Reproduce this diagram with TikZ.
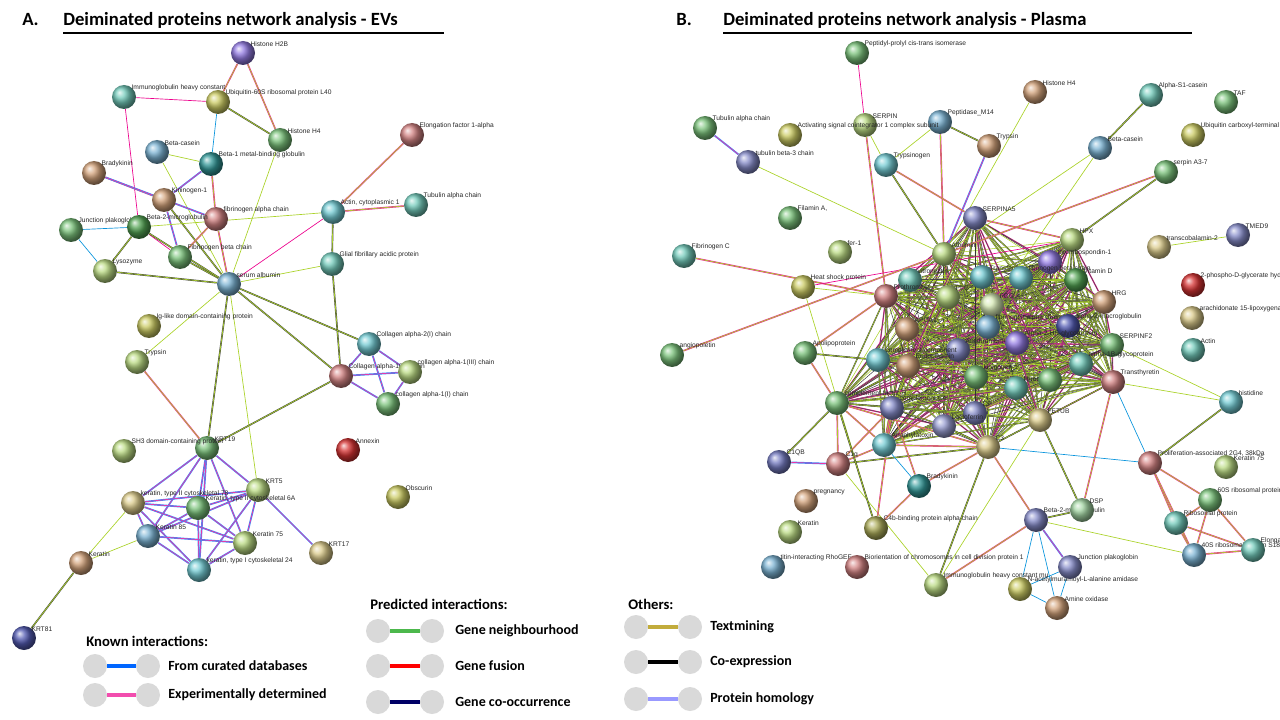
\documentclass[tikz,border=0pt]{standalone}
\usepackage{fontspec}
\setmainfont{Liberation Sans}
\newfontfamily\carl{Carlito}
\usetikzlibrary{backgrounds}
\definecolor{yg}{RGB}{170,210,40}
\definecolor{cgreen}{RGB}{90,180,90}
\definecolor{cteal}{RGB}{80,190,170}
\definecolor{cblue}{RGB}{90,160,200}
\definecolor{cbrown}{RGB}{200,140,90}
\definecolor{colive}{RGB}{190,190,60}
\definecolor{cpurp}{RGB}{120,90,220}
\definecolor{cred}{RGB}{200,100,100}
\definecolor{clime}{RGB}{170,210,100}
\definecolor{cnavy}{RGB}{40,50,160}
\definecolor{ccyan}{RGB}{80,190,200}
\definecolor{cdgreen}{RGB}{40,140,40}
\definecolor{ctan}{RGB}{210,190,110}
\tikzset{
 ball/.style={circle,minimum size=18pt,inner sep=0pt,shading=ball,ball color=#1!80!white},
 lab/.style={font=\fontsize{5}{6}\selectfont,inner sep=0.5pt,text=black!85},
 e0/.style={draw=yg,line width=.5pt},
 e1/.style={draw=black!75,double=yg,double distance=.5pt,line width=.35pt},
 e2/.style={draw=magenta!85,double=yg,double distance=.5pt,line width=.35pt},
 e3/.style={draw=blue!55!cyan!80,double=magenta!80,double distance=.5pt,line width=.4pt},
 e4/.style={draw=cyan!80!blue,line width=.5pt},
 e5/.style={draw=magenta,line width=.5pt},
 h0/.style={draw=black!80,line width=.35pt},
 h1/.style={draw=black!75,double=yg,double distance=.4pt,line width=.3pt},
 h2/.style={draw=magenta!85,double=black!70,double distance=.4pt,line width=.3pt},
 h3/.style={draw=yg,line width=.4pt},
 h4/.style={draw=black!70,double=yg,double distance=.4pt,line width=.3pt},
 lg/.style={circle,fill=black!15,minimum size=18pt,inner sep=0pt},
 lt/.style={font=\carl\bfseries\fontsize{10.5}{12}\selectfont,anchor=west,inner sep=0pt},
 tt/.style={font=\carl\bfseries\fontsize{14}{16}\selectfont,anchor=west,inner sep=0pt}
}
\newcommand\bn[4]{\node[ball=#3] (#1) at (#2) {}; \node[lab,anchor=south west] at ([xshift=-1.5pt,yshift=-2.5pt]#1.north east) {#4};}
\begin{document}
\begin{tikzpicture}[x=0.75pt,y=-0.75pt]
\useasboundingbox (0,0) rectangle (1280,720);
% titles
\node[tt] at (22,20) {A.};
\node[tt] (ta) at (63,20) {Deiminated proteins network analysis - EVs};
\draw[line width=1.2pt] (63,33) -- (444,33);
\node[tt] at (676,20) {B.};
\node[tt] (tb) at (723,20) {Deiminated proteins network analysis - Plasma};
\draw[line width=1.2pt] (723,33) -- (1192,33);
% ---------- panel A nodes
\bn{h2b}{243,53}{cpurp}{Histone H2B}
\bn{igc}{124,97}{cteal}{Immunoglobulin heavy constant}
\bn{ubq}{218,102}{colive}{Ubiquitin-60S ribosomal protein L40}
\bn{h4}{280,140}{cgreen}{Histone H4}
\bn{ef}{412,135}{cred}{Elongation factor 1-alpha}
\bn{bcas}{157,152}{cblue}{Beta-casein}
\bn{b1}{211,164}{teal}{Beta-1 metal-binding globulin}
\bn{brad}{94,173}{cbrown}{Bradykinin}
\bn{kin}{164,200}{cbrown}{Kininogen-1}
\bn{fa}{216,219}{cred}{fibrinogen alpha chain}
\bn{act}{333,212}{ccyan}{Actin, cytoplasmic 1}
\bn{tub}{416,205}{cteal}{Tubulin alpha chain}
\bn{jp}{71,230}{cgreen}{Junction plakoglobin}
\bn{b2m}{139,227}{cdgreen}{Beta-2-microglobulin}
\bn{fb}{180,257}{cgreen}{Fibrinogen beta chain}
\bn{gfap}{332,264}{cteal}{Glial fibrillary acidic protein}
\bn{lys}{105,271}{clime}{Lysozyme}
\bn{alb}{229,284}{cblue}{serum albumin}
\bn{iglike}{149,326}{colive}{Ig-like domain-containing protein}
\bn{tryp}{137,362}{clime}{Trypsin}
\bn{ca2}{369,344}{ccyan}{Collagen alpha-2(I) chain}
\bn{ca}{341,376}{cred}{Collagen alpha-1(II) chain}
\bn{c3}{410,372}{clime}{collagen alpha-1(III) chain}
\bn{c1}{388,404}{cgreen}{collagen alpha-1(I) chain}
\bn{krt19}{207,448}{cgreen}{KRT19}
\bn{sh3}{124,451}{clime}{SH3 domain-containing protein}
\bn{anx}{348,450}{red!80!black}{Annexin}
\bn{krt5}{258,490}{clime}{KRT5}
\bn{k78}{133,503}{ctan}{keratin, type II cytoskeletal 78}
\bn{k6a}{198,508}{cgreen}{Keratin, type II cytoskeletal 6A}
\bn{obs}{398,497}{colive}{Obscurin}
\bn{k85}{148,536}{cblue}{Keratin 85}
\bn{k75}{245,543}{clime}{Keratin 75}
\bn{krt17}{321,553}{ctan}{KRT17}
\bn{k24}{199,570}{ccyan}{keratin, type I cytoskeletal 24}
\bn{ker}{81,563}{cbrown}{Keratin}
\bn{krt81}{24,638}{cnavy}{KRT81}
\begin{scope}[on background layer]
\draw[e2] (h2b)--(ubq); \draw[e2] (h2b)--(h4); \draw[e1] (ubq)--(h4);
\draw[e5] (igc)--(ubq); \draw[e5] (igc)--(b2m); \draw[e4] (ubq)--(b1);
\draw[e0] (bcas)--(b1); \draw[e0] (bcas)--(alb); \draw[e0] (h4)--(alb);
\draw[e3] (b1)--(kin); \draw[e2] (b1)--(fa); \draw[e2] (brad)--(kin);
\draw[e3] (brad)--(fa); \draw[e3] (kin)--(fb); \draw[e1] (kin)--(alb);
\draw[e2] (fa)--(fb); \draw[e2] (fa)--(alb); \draw[e4] (jp)--(b2m);
\draw[e4] (jp)--(lys); \draw[e1] (b2m)--(lys); \draw[e5] (b2m)--(fb);
\draw[e0] (b2m)--(act); \draw[e1] (lys)--(alb); \draw[e1] (fb)--(alb);
\draw[e1] (b2m)--(alb);
\draw[e2] (act)--(ef); \draw[e2] (act)--(tub); \draw[e5] (act)--(alb);
\draw[e1] (act)--(gfap); \draw[e0] (gfap)--(alb); \draw[e1] (gfap)--(ca);
\draw[e0] (tryp)--(alb); \draw[e2] (tryp)--(krt19); \draw[e1] (alb)--(krt19);
\draw[e0] (alb)--(krt5); \draw[e1] (alb)--(ca2); \draw[e1] (alb)--(ca);
\draw[e1] (ca)--(krt19);
\foreach \a/\b in {ca2/ca,ca2/c3,ca2/c1,ca/c3,ca/c1,c3/c1} \draw[e3] (\a)--(\b);
\foreach \a/\b in {krt19/krt5,krt19/k78,krt19/k6a,krt19/k85,krt19/k75,krt19/k24,krt5/k78,krt5/k6a,krt5/k85,krt5/k75,krt5/k24,k78/k6a,k78/k85,k78/k75,k78/k24,k6a/k85,k6a/k75,k6a/k24,k85/k75,k85/k24,k75/k24,krt5/krt17}
  \draw[e3] (\a)--(\b);
\draw[e0] (k78)--(ker); \draw[e0] (k85)--(ker); \draw[e1] (ker)--(krt81);
\end{scope}
% ---------- panel B nodes
\bn{ppi}{857,53}{cgreen}{Peptidyl-prolyl cis-trans isomerase}
\bn{bh4}{1035,92}{cbrown}{Histone H4}
\bn{as1}{1151,95}{cteal}{Alpha-S1-casein}
\bn{taf}{1226,102}{cgreen}{TAF}
\bn{btub}{705,128}{cgreen}{Tubulin alpha chain}
\bn{serpin}{865,125}{clime}{SERPIN}
\bn{pep}{940,122}{cblue}{Peptidase\_M14}
\bn{asc}{790,135}{colive}{Activating signal cointegrator 1 complex subunit}
\bn{btryp}{989,146}{cbrown}{Trypsin}
\bn{ucl}{1193,135}{colive}{Ubiquitin carboxyl-terminal hydrolase}
\bn{bbcas}{1100,148}{cblue}{Beta-casein}
\bn{tb3}{748,162}{cnavy!70!white}{tubulin beta-3 chain}
\bn{tgen}{886,165}{ccyan}{Trypsinogen}
\bn{sa3}{1166,172}{cgreen}{serpin A3-7}
\bn{sa5}{975,218}{cnavy!70!white}{SERPINA5}
\bn{fil}{790,218}{cgreen}{Filamin A,}
\bn{tmed}{1238,235}{cnavy!70!white}{TMED9}
\bn{hpx}{1072,240}{clime}{HPX}
\bn{fibc}{684,256}{cteal}{Fibrinogen C}
\bn{fer}{840,252}{clime}{fer-1}
\bn{tcb}{1159,247}{ctan}{transcobalamin-2}
\bn{balb}{944,254}{clime}{Albumin}
\bn{thr}{1050,262}{cpurp}{thrombospondin-1}
\bn{vit}{910,280}{cteal}{vitronectin}
\bn{trf}{982,277}{ccyan}{Transferrin}
\bn{fbb}{1021,278}{ccyan}{fibrinogen beta chain}
\bn{vitd}{1076,280}{cdgreen}{Vitamin D}
\bn{hsp}{803,287}{colive}{Heat shock protein}
\bn{pro}{886,296}{cred}{Prothrombin}
\bn{plg}{948,297}{clime}{PLG}
\bn{fgg}{992,305}{clime!60!white}{FGG}
\bn{hrg}{1104,302}{cbrown}{HRG}
\bn{apoa}{907,329}{cbrown}{APOA1}
\bn{fba}{988,327}{cblue}{fibrinogen alpha chain}
\bn{a2m}{1068,326}{cnavy}{alpha-2-macroglobulin}
\bn{at3}{958,350}{cnavy!70!white}{Antithrombin-III}
\bn{a2hs}{1017,343}{cpurp}{Alpha-2-HS-glycoprotein}
\bn{apo}{805,353}{cgreen}{Apolipoprotein}
\bn{sf2}{1112,345}{cgreen}{SERPINF2}
\bn{ccomp}{878,360}{ccyan}{complement component}
\bn{endo}{908,366}{cbrown}{Endoplasmin}
\bn{a1b}{1081,364}{cteal}{alpha-1B-glycoprotein}
\bn{bkin}{976,377}{cgreen}{kininogen-1}
\bn{fn}{1016,388}{cteal}{fibronectin}
\bn{gn}{1050,380}{cgreen}{}
\bn{ttr}{1113,382}{cred}{Transthyretin}
\bn{cfh}{837,403}{cgreen}{complement factor H}
\bn{c4}{892,408}{cnavy!70!white}{complement C4}
\bn{cp}{975,413}{cnavy!70!white}{CP}
\bn{fetub}{1040,420}{ctan}{FETUB}
\bn{lact}{944,426}{cnavy!60!white}{Lactoferrin}
\bn{ana}{884,445}{ccyan}{Anaphylatoxin}
\bn{bc3}{988,447}{ctan}{C3}
\bn{ang}{672,355}{cgreen}{angiopoietin}
\bn{c1qb}{779,462}{cnavy!80!white}{C1QB}
\bn{c1q}{838,464}{cred}{C1q}
\bn{bbrad}{919,486}{teal}{Bradykinin}
\bn{preg}{806,501}{cbrown}{pregnancy}
\bn{bker}{790,532}{clime}{Keratin}
\bn{c4b}{876,528}{colive!80!black}{C4b-binding protein alpha chain}
\bn{titin}{773,567}{cblue}{titin-interacting RhoGEF}
\bn{bior}{857,567}{cred}{Biorientation of chromosomes in cell division protein 1}
\bn{igmu}{936,585}{clime}{Immunoglobulin heavy constant mu}
\bn{nac}{1020,589}{colive}{N-acetylmuramoyl-L-alanine amidase}
\bn{amo}{1057,608}{cbrown}{Amine oxidase}
\bn{bjp}{1070,567}{cnavy!70!white}{Junction plakoglobin}
\bn{bb2m}{1036,520}{cnavy!70!white}{Beta-2-microglobulin}
\bn{dsp}{1082,510}{cgreen!70!white}{DSP}
\bn{his}{1231,402}{ccyan}{histidine}
\bn{pa2}{1150,463}{cred}{Proliferation-associated 2G4, 38kDa}
\bn{k75b}{1226,467}{clime}{Keratin 75}
\bn{r60}{1210,500}{cgreen}{60S ribosomal protein}
\bn{rp}{1176,523}{cteal}{Ribosomal protein}
\bn{r40}{1194,555}{cblue}{40S ribosomal protein S18}
\bn{elo}{1253,550}{cteal}{Elongation}
\bn{bact}{1193,350}{cteal}{Actin}
\bn{ara}{1192,318}{ctan}{arachidonate 15-lipoxygenase}
\bn{pgh}{1193,285}{red!80!black}{2-phospho-D-glycerate hydro-lyase}
\begin{scope}[on background layer]
\foreach \a [count=\i] in {balb,hpx,thr,vit,trf,fbb,vitd,pro,plg,fgg,hrg,apoa,fba,a2m,at3,a2hs,ccomp,endo,a1b,sf2,bkin,fn,gn,ttr,cfh,c4,cp,fetub,lact,ana,bc3,sa5}{
 \foreach \b [count=\j] in {balb,hpx,thr,vit,trf,fbb,vitd,pro,plg,fgg,hrg,apoa,fba,a2m,at3,a2hs,ccomp,endo,a1b,sf2,bkin,fn,gn,ttr,cfh,c4,cp,fetub,lact,ana,bc3,sa5}{
  \ifnum\j>\i
   \pgfmathtruncatemacro\s{mod(\i*7+\j*3,5)}
   \draw[h\s] (\a)--(\b);
  \fi}}
\draw[e5] (ppi)--(serpin); \draw[e2] (serpin)--(pro); \draw[e3] (btub)--(tb3);
\draw[e0] (tb3)--(balb); \draw[e0] (serpin)--(tgen); \draw[e0] (pep)--(tgen);
\draw[e1] (pep)--(btryp); \draw[e2] (pep)--(balb); \draw[e3] (btryp)--(balb);
\draw[e0] (bh4)--(balb); \draw[e1] (as1)--(bbcas); \draw[e0] (bbcas)--(balb);
\draw[e0] (bbcas)--(fgg); \draw[e2] (sa3)--(balb); \draw[e1] (sa3)--(hpx);
\draw[e2] (tgen)--(sa5); \draw[e1] (tgen)--(balb); \draw[e2] (sa5)--(hpx);
\draw[e2] (fibc)--(pro); \draw[e0] (hsp)--(pro); \draw[e5] (hsp)--(hpx);
\draw[e0] (hsp)--(c4b); \draw[e2] (ang)--(balb); \draw[e0] (tmed)--(tcb);
\draw[e0] (ttr)--(his); \draw[e1] (his)--(pa2); \draw[e4] (bc3)--(pa2);
\draw[e4] (ttr)--(pa2); \draw[e0] (sf2)--(his);
\foreach \a/\b in {pa2/r60,pa2/rp,pa2/r40,r60/rp,r60/r40,rp/r40,r60/elo,rp/elo,r40/elo} \draw[e2] (\a)--(\b);
\draw[e0] (bb2m)--(r40); \draw[e1] (bb2m)--(dsp); \draw[e3] (bb2m)--(bjp);
\draw[e4] (bb2m)--(nac); \draw[e4] (bb2m)--(amo); \draw[e4] (bjp)--(amo);
\draw[e4] (nac)--(amo); \draw[e4] (bjp)--(nac); \draw[e2] (bb2m)--(bc3);
\draw[e1] (dsp)--(fetub); \draw[e2] (dsp)--(ttr); \draw[e3] (c1qb)--(c1q);
\draw[e1] (c1qb)--(cfh); \draw[e2] (c1q)--(cfh); \draw[e2] (c1q)--(c4);
\draw[e1] (c1q)--(bc3); \draw[e2] (c1q)--(ana); \draw[e0] (c1q)--(igmu);
\draw[e2] (c4b)--(bbrad); \draw[e1] (c4b)--(cfh); \draw[e2] (c4b)--(c4);
\draw[e1] (igmu)--(bc3); \draw[e2] (igmu)--(bb2m); \draw[e0] (igmu)--(fetub);
\draw[e2] (bbrad)--(bc3); \draw[e4] (bbrad)--(ana); \draw[e2] (bbrad)--(c4);
\draw[e2] (apo)--(pro); \draw[e1] (apo)--(ccomp); \draw[e2] (apo)--(cfh);
\draw[e2] (cfh)--(ana); \draw[e2] (cfh)--(bc3); \draw[e2] (ana)--(bc3);
\draw[e2] (ana)--(c4); \draw[e1] (lact)--(bc3);
\end{scope}
% ---------- legend
\node[lt,font=\carl\bfseries\fontsize{11}{13}\selectfont] at (86,641) {Known interactions:};
\node[lt,font=\carl\bfseries\fontsize{11}{13}\selectfont] at (370,604) {Predicted interactions:};
\node[lt,font=\carl\bfseries\fontsize{11}{13}\selectfont] at (628,604) {Others:};
\foreach \y/\c/\t [count=\k] in {666/blue!60!cyan/From curated databases,695/magenta!70/Experimentally determined}{
 \node[lg] (ka\k) at (95,\y) {}; \node[lg] (kb\k) at (148,\y) {};
 \draw[\c,line width=2.5pt] (ka\k)--(kb\k); \node[lt] at (168,\y) {\t};}
\foreach \y/\c/\t [count=\k] in {631/green!60!black!70/Gene neighbourhood,666/red/Gene fusion,702/blue!40!black/Gene co-occurrence}{
 \node[lg] (pa\k) at (378,\y) {}; \node[lg] (pb\k) at (432,\y) {};
 \draw[\c,line width=2.5pt] (pa\k)--(pb\k); \node[lt] at (455,\y) {\t};}
\foreach \y/\c/\t [count=\k] in {627/brown!50!yellow!70!gray/Textmining,662/black/Co-expression,699/blue!40!white/Protein homology}{
 \node[lg] (oa\k) at (636,\y) {}; \node[lg] (ob\k) at (690,\y) {};
 \draw[\c,line width=2.5pt] (oa\k)--(ob\k); \node[lt] at (710,\y) {\t};}
\end{tikzpicture}
\end{document}
